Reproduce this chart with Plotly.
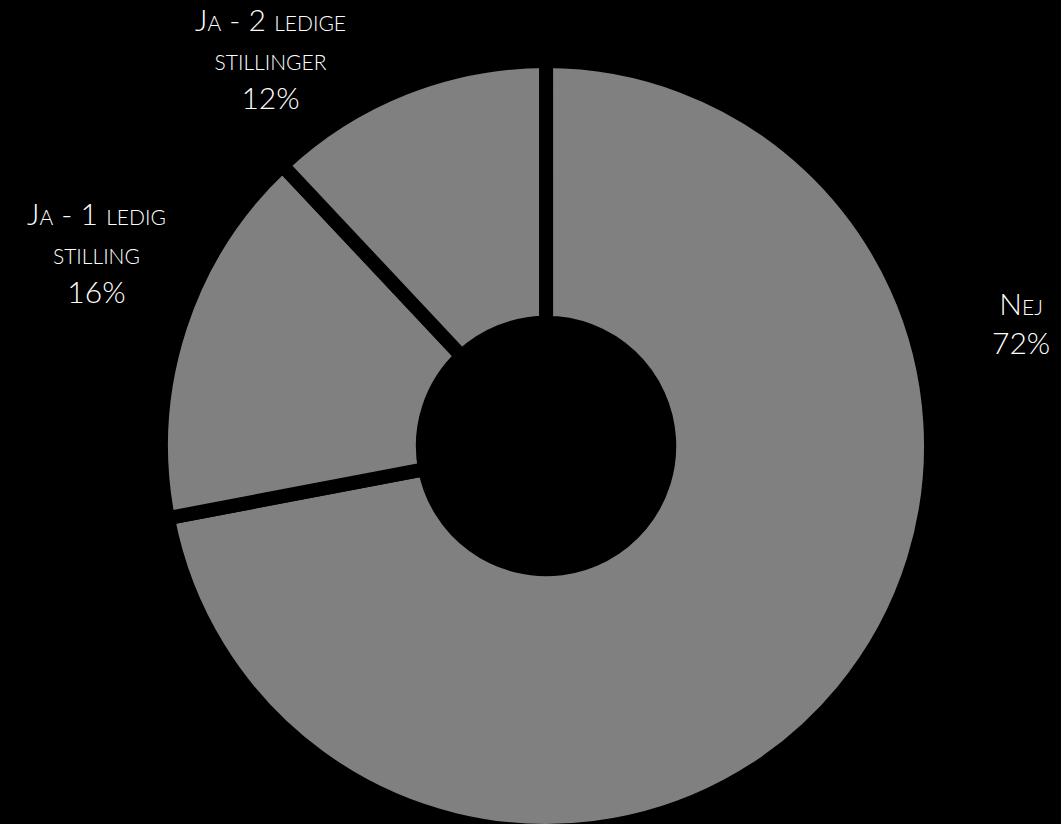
import plotly.graph_objects as go

labels = ["Nej", "Ja - 1 ledig stilling", "Ja - 2 ledige stillinger"]
values = [72, 16, 12]
# label lines as displayed (word groups per line)
label_lines = [
    ["Nej"],
    ["Ja - 1 ledig", "stilling"],
    ["Ja - 2 ledige", "stillinger"],
]
H = 840
label_pos = [(0.962, 1 - 322 / H), (0.0914, 1 - 252 / H), (0.2545, 1 - 58 / H)]

BIG = 30
SMALL = 21


def small_caps(s):
    out = []
    for ch in s:
        if ch.isalpha() and ch.islower():
            out.append(f"<span style='font-size:{SMALL}px'>{ch.upper()}</span>")
        else:
            out.append(ch)
    return "".join(out)


fig = go.Figure()
fig.add_trace(go.Pie(
    labels=labels,
    values=values,
    sort=False,
    direction="clockwise",
    rotation=0,
    hole=0.32,
    textinfo="none",
    hoverinfo="none",
    marker=dict(colors=["#808080"] * 3, line=dict(color="#000000", width=14)),
    domain=dict(x=[0.1518, 0.8775], y=[9 / H, 1 - 61 / H]),
    showlegend=False,
))

total = sum(values)
for lines, v, (x, y) in zip(label_lines, values, label_pos):
    txt = "<br>".join(small_caps(l) for l in lines) + f"<br>{round(100 * v / total)}%"
    fig.add_annotation(
        text=txt, x=x, y=y, xref="paper", yref="paper",
        xanchor="center", yanchor="middle", showarrow=False, align="center",
        font=dict(family="Lato, 'Noto Sans', sans-serif", size=BIG, color="#ffffff", weight=300),
    )

fig.update_layout(
    width=1061, height=H,
    margin=dict(l=0, r=0, t=0, b=0),
    paper_bgcolor="#000000", plot_bgcolor="#000000",
)

fig.write_html(
    "out.html",
    config={"displayModeBar": False},
    post_script="document.body.style.margin='0';document.body.style.background='#000';document.body.style.overflow='hidden';document.documentElement.style.overflow='hidden';",
)
